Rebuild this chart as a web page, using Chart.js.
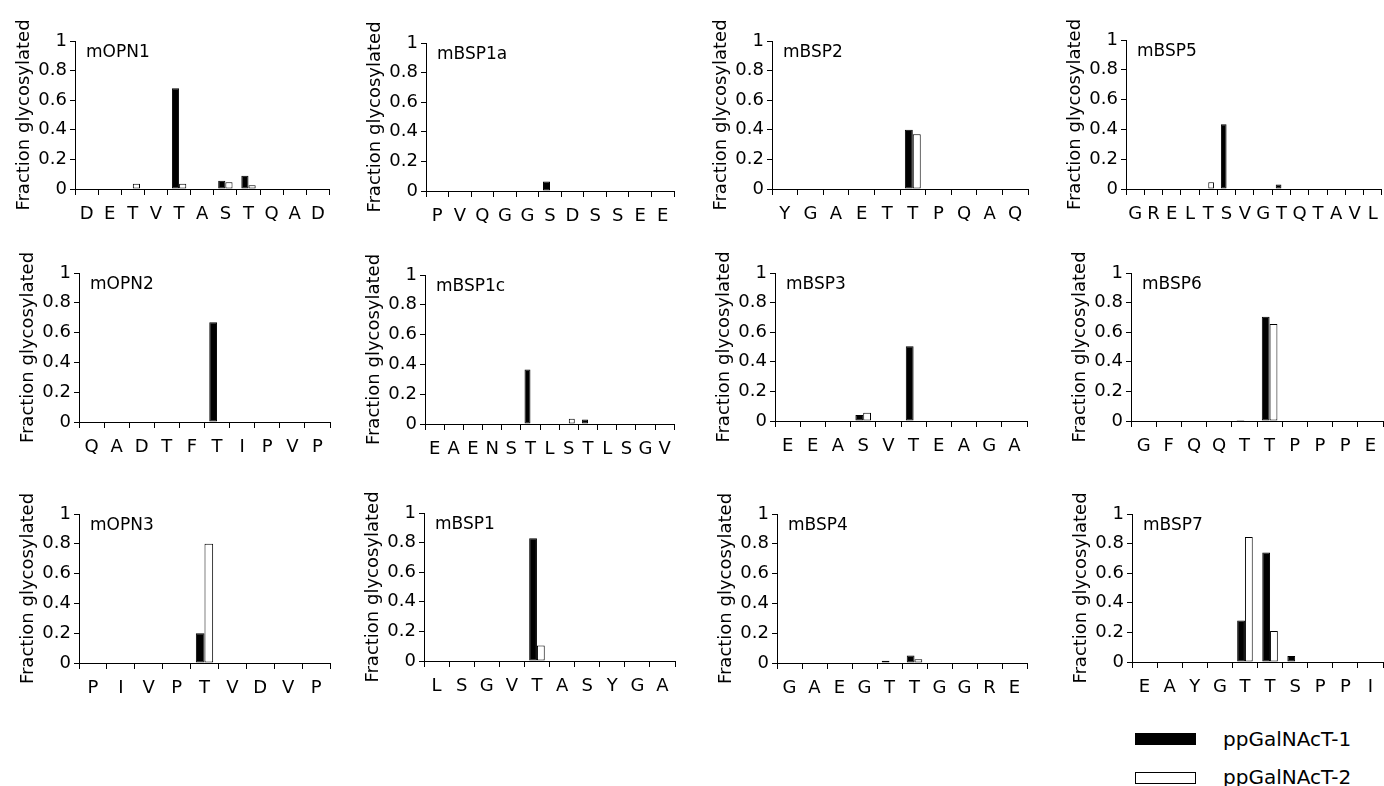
<!DOCTYPE html>
<html>
<head>
<meta charset="utf-8">
<script src="https://cdn.jsdelivr.net/npm/chart.js@4"></script>
<style>
  html, body { margin: 0; padding: 0; background: #fff; overflow: hidden; }
  body { width: 1384px; height: 786px; position: relative; font-family: "DejaVu Sans", Verdana, sans-serif; }
  .panel { position: absolute; }
  .key { position: absolute; left: 1135px; width: 61px; height: 12px; box-sizing: border-box; border: 1px solid #000; }
  .key-text { position: absolute; left: 1223px; font-size: 20px; line-height: 24px; color: #000; }
</style>
</head>
<body>
<div class="key" style="top:733px;background:#000"></div>
<span class="key-text" style="top:727px">ppGalNAcT-1</span>
<div class="key" style="top:772px;background:#fff"></div>
<span class="key-text" style="top:765px">ppGalNAcT-2</span>

<script>
  // series names
  const seriesNames = ['ppGalNAcT-1', 'ppGalNAcT-2']

  // peptide residues and fraction glycosylated, one set per peptide
  const mOPN1Labels = ['D', 'E', 'T', 'V', 'T', 'A', 'S', 'T', 'Q', 'A', 'D']
  const mOPN1T1 = [0, 0, 0, 0, 0.68, 0, 0.055, 0.09, 0, 0, 0]
  const mOPN1T2 = [0, 0, 0.035, 0, 0.035, 0, 0.045, 0.025, 0, 0, 0]

  const mBSP1aLabels = ['P', 'V', 'Q', 'G', 'G', 'S', 'D', 'S', 'S', 'E', 'E']
  const mBSP1aT1 = [0, 0, 0, 0, 0, 0.065, 0, 0, 0, 0, 0]
  const mBSP1aT2 = [0, 0, 0, 0, 0, 0, 0, 0, 0, 0, 0]

  const mBSP2Labels = ['Y', 'G', 'A', 'E', 'T', 'T', 'P', 'Q', 'A', 'Q']
  const mBSP2T1 = [0, 0, 0, 0, 0, 0.40, 0, 0, 0, 0]
  const mBSP2T2 = [0, 0, 0, 0, 0, 0.37, 0, 0, 0, 0]

  const mBSP5Labels = ['G', 'R', 'E', 'L', 'T', 'S', 'V', 'G', 'T', 'Q', 'T', 'A', 'V', 'L']
  const mBSP5T1 = [0, 0, 0, 0, 0, 0.435, 0, 0, 0.03, 0, 0, 0, 0, 0]
  const mBSP5T2 = [0, 0, 0, 0, 0.045, 0, 0, 0, 0, 0, 0, 0, 0, 0]

  const mOPN2Labels = ['Q', 'A', 'D', 'T', 'F', 'T', 'I', 'P', 'V', 'P']
  const mOPN2T1 = [0, 0, 0, 0, 0, 0.67, 0, 0, 0, 0]
  const mOPN2T2 = [0, 0, 0, 0, 0, 0, 0, 0, 0, 0]

  const mBSP1cLabels = ['E', 'A', 'E', 'N', 'S', 'T', 'L', 'S', 'T', 'L', 'S', 'G', 'V']
  const mBSP1cT1 = [0, 0, 0, 0, 0, 0.365, 0, 0, 0.03, 0, 0, 0, 0]
  const mBSP1cT2 = [0, 0, 0, 0, 0, 0, 0, 0.035, 0, 0, 0, 0, 0]

  const mBSP3Labels = ['E', 'E', 'A', 'S', 'V', 'T', 'E', 'A', 'G', 'A']
  const mBSP3T1 = [0, 0, 0, 0.04, 0, 0.505, 0, 0, 0, 0]
  const mBSP3T2 = [0, 0, 0, 0.055, 0, 0, 0, 0, 0, 0]

  const mBSP6Labels = ['G', 'F', 'Q', 'Q', 'T', 'T', 'P', 'P', 'P', 'E']
  const mBSP6T1 = [0, 0, 0, 0, 0.007, 0.705, 0, 0, 0, 0]
  const mBSP6T2 = [0, 0, 0, 0, 0, 0.655, 0, 0, 0, 0]

  const mOPN3Labels = ['P', 'I', 'V', 'P', 'T', 'V', 'D', 'V', 'P']
  const mOPN3T1 = [0, 0, 0, 0, 0.2, 0, 0, 0, 0]
  const mOPN3T2 = [0, 0, 0, 0, 0.8, 0, 0, 0, 0]

  const mBSP1Labels = ['L', 'S', 'G', 'V', 'T', 'A', 'S', 'Y', 'G', 'A']
  const mBSP1T1 = [0, 0, 0, 0, 0.83, 0, 0, 0, 0, 0]
  const mBSP1T2 = [0, 0, 0, 0, 0.105, 0, 0, 0, 0, 0]

  const mBSP4Labels = ['G', 'A', 'E', 'G', 'T', 'T', 'G', 'G', 'R', 'E']
  const mBSP4T1 = [0, 0, 0, 0, 0.015, 0.05, 0, 0, 0, 0]
  const mBSP4T2 = [0, 0, 0, 0, 0, 0.025, 0, 0, 0, 0]

  const mBSP7Labels = ['E', 'A', 'Y', 'G', 'T', 'T', 'S', 'P', 'P', 'I']
  const mBSP7T1 = [0, 0, 0, 0, 0.28, 0.74, 0.04, 0, 0, 0]
  const mBSP7T2 = [0, 0, 0, 0, 0.845, 0.21, 0, 0, 0, 0]

  const yTicks = [0, 0.2, 0.4, 0.6, 0.8, 1]
  const yTickLabels = ['0', '0.2', '0.4', '0.6', '0.8', '1']
  const yTitle = 'Fraction glycosylated'

  // panels in reading order, with where each plot area sits on the page
  // [name, labels, t1, t2, axisLeft, axisRight, yTop, yZero]
  const panels = [
    ['mOPN1', mOPN1Labels, mOPN1T1, mOPN1T2, 75, 330, 41, 189],
    ['mBSP1a', mBSP1aLabels, mBSP1aT1, mBSP1aT2, 426, 674, 43, 191],
    ['mBSP2', mBSP2Labels, mBSP2T1, mBSP2T2, 772, 1028, 41, 189],
    ['mBSP5', mBSP5Labels, mBSP5T1, mBSP5T2, 1126, 1383, 40, 189],
    ['mOPN2', mOPN2Labels, mOPN2T1, mOPN2T2, 79, 330, 273, 422],
    ['mBSP1c', mBSP1cLabels, mBSP1cT1, mBSP1cT2, 425, 676, 275, 424],
    ['mBSP3', mBSP3Labels, mBSP3T1, mBSP3T2, 775, 1027, 273, 421],
    ['mBSP6', mBSP6Labels, mBSP6T1, mBSP6T2, 1131, 1383, 273, 421],
    ['mOPN3', mOPN3Labels, mOPN3T1, mOPN3T2, 79, 330, 514, 663],
    ['mBSP1', mBSP1Labels, mBSP1T1, mBSP1T2, 424, 675, 513, 661],
    ['mBSP4', mBSP4Labels, mBSP4T1, mBSP4T2, 777, 1027, 514, 663],
    ['mBSP7', mBSP7Labels, mBSP7T1, mBSP7T2, 1132, 1383, 514, 662]
  ]

  const FONT = '"DejaVu Sans", Verdana, sans-serif'
  const LEFT_W = 80, TOP_PAD = 20, RIGHT_PAD = 4, BOTTOM_H = 40

  // panel name inside the plot, top left
  const panelName = {
    id: 'panelName',
    afterDraw(chart, args, opts) {
      const { ctx, chartArea } = chart
      ctx.save()
      ctx.font = '17px ' + FONT
      ctx.fillStyle = '#000'
      ctx.textBaseline = 'middle'
      ctx.textAlign = 'left'
      ctx.fillText(opts.text, chartArea.left + 11, chartArea.top + 12)
      ctx.restore()
    }
  }

  // empty residues get no bar at all
  const noZero = (arr) => arr.map(v => (v === 0 ? null : v))

  panels.forEach(([name, labels, t1, t2, axL, axR, yTop, yZero]) => {
    const box = document.createElement('div')
    box.className = 'panel'
    box.style.left = (axL - LEFT_W) + 'px'
    box.style.top = (yTop - TOP_PAD) + 'px'
    box.style.width = (axR - axL + LEFT_W + RIGHT_PAD) + 'px'
    box.style.height = (yZero - yTop + TOP_PAD + BOTTOM_H) + 'px'
    const cv = document.createElement('canvas')
    box.appendChild(cv)
    document.body.appendChild(box)

    new Chart(cv, {
      type: 'bar',
      data: {
        labels: labels,
        datasets: [{
          label: seriesNames[0],
          data: noZero(t1),
          backgroundColor: '#000',
          borderColor: '#000',
          borderWidth: 1,
          borderSkipped: false,
          categoryPercentage: 0.62,
          barPercentage: 1.0
        }, {
          label: seriesNames[1],
          data: noZero(t2),
          backgroundColor: '#fff',
          borderColor: '#000',
          borderWidth: 1,
          borderSkipped: false,
          categoryPercentage: 0.62,
          barPercentage: 1.0
        }]
      },
      plugins: [panelName],
      options: {
        responsive: true,
        maintainAspectRatio: false,
        devicePixelRatio: 1,
        animation: false,
        layout: { padding: { top: TOP_PAD, right: RIGHT_PAD, bottom: 0, left: 0 } },
        scales: {
          x: {
            afterFit: (s) => { s.height = BOTTOM_H },
            grid: { offset: true, drawOnChartArea: false, drawTicks: true, tickLength: 6, color: '#000' },
            border: { display: true, color: '#000', width: 1 },
            ticks: { color: '#000', padding: 9, maxRotation: 0, autoSkip: false, font: { family: FONT, size: 18 } }
          },
          y: {
            min: 0,
            max: 1,
            afterFit: (s) => { s.width = LEFT_W },
            afterBuildTicks: (s) => { s.ticks = yTicks.map(v => ({ value: v })) },
            grid: { drawOnChartArea: false, drawTicks: true, tickLength: 5, color: '#000' },
            border: { display: true, color: '#000', width: 1 },
            ticks: {
              color: '#000',
              padding: 3,
              font: { family: FONT, size: 18 },
              callback: (v) => yTickLabels[yTicks.indexOf(Math.round(v * 10) / 10)]
            },
            title: { display: true, text: yTitle, color: '#000', padding: { top: 19, bottom: 0 }, font: { family: FONT, size: 18 } }
          }
        },
        plugins: {
          legend: { display: false },
          tooltip: { enabled: false },
          panelName: { text: name }
        }
      }
    })
  })
</script>
</body>
</html>
